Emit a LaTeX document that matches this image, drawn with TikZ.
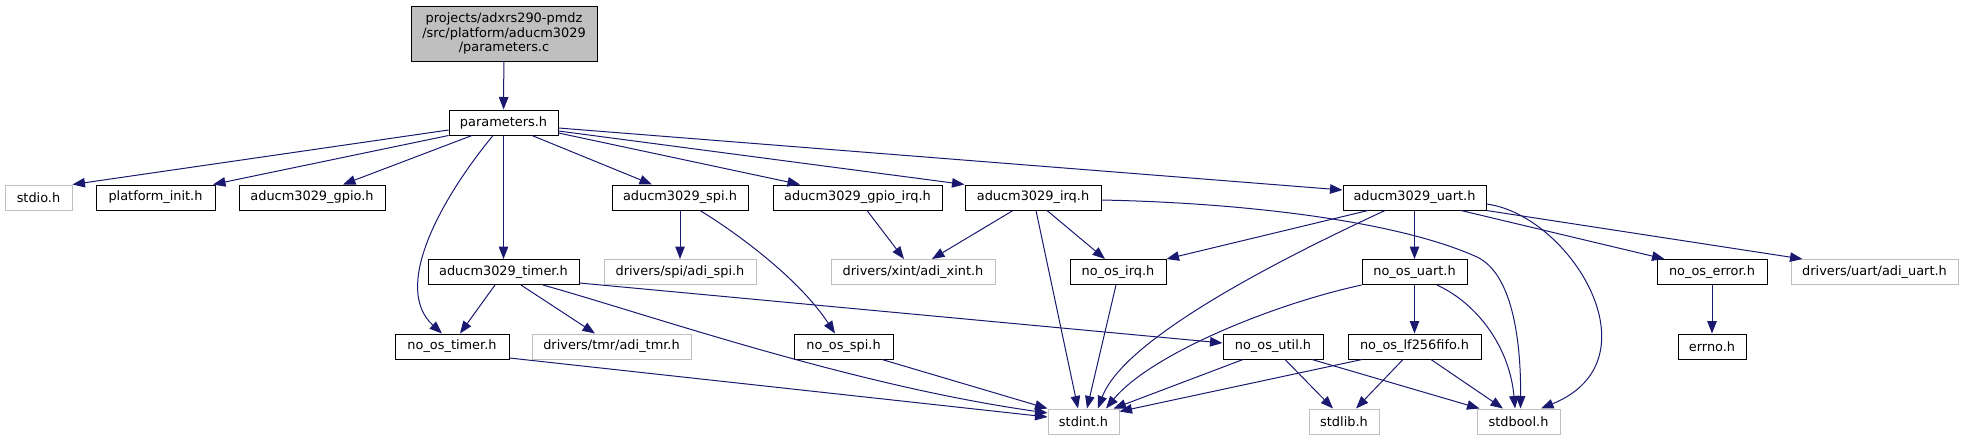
\documentclass[tikz,border=0pt]{standalone}
\usepackage{fontspec}
\setmainfont{DejaVu Sans}
\usetikzlibrary{arrows.meta}
\definecolor{edgec}{HTML}{191970}
\definecolor{greyb}{HTML}{BFBFBF}
\begin{document}
\begin{tikzpicture}[x=1pt,y=-1pt,
  fileb/.style={draw=black, line width=1pt, fill=white, minimum height=25pt, inner sep=0pt,
    font=\fontsize{12.9pt}{14.7pt}\selectfont},
  extb/.style={fileb, draw=greyb},
  rootb/.style={fileb, fill=greyb, minimum height=55pt, align=center},
  edge/.style={draw=edgec, line width=1pt, -{Triangle[length=12.5pt,width=9.5pt]}}]
\useasboundingbox (0,0) rectangle (1963,440);
% row 0 / 1
\node[rootb, minimum width=186pt] (pc) at (504,33.5) {projects/adxrs290-pmdz\\/src/platform/aducm3029\\/parameters.c};
\node[fileb, minimum width=109pt] (ph) at (503.5,122.5) {parameters.h};
% row 2
\node[extb, minimum width=67pt] (stdio) at (38.5,197.5) {stdio.h};
\node[fileb, minimum width=119pt] (platinit) at (155.5,197.5) {platform\_init.h};
\node[fileb, minimum width=146pt] (gpio) at (312,197.5) {aducm3029\_gpio.h};
\node[fileb, minimum width=136pt] (spi) at (680,197.5) {aducm3029\_spi.h};
\node[fileb, minimum width=169pt] (gpioirq) at (857.5,197.5) {aducm3029\_gpio\_irq.h};
\node[fileb, minimum width=136pt] (irq) at (1033,197.5) {aducm3029\_irq.h};
\node[fileb, minimum width=143pt] (uart) at (1414.5,197.5) {aducm3029\_uart.h};
% row 3
\node[fileb, minimum width=151pt] (timer) at (503.5,272) {aducm3029\_timer.h};
\node[extb, minimum width=152pt] (adispi) at (680,272) {drivers/spi/adi\_spi.h};
\node[extb, minimum width=164pt] (adixint) at (913,272) {drivers/xint/adi\_xint.h};
\node[fileb, minimum width=96pt] (noirq) at (1118,272) {no\_os\_irq.h};
\node[fileb, minimum width=105pt] (nouart) at (1414.5,272) {no\_os\_uart.h};
\node[fileb, minimum width=110pt] (noerror) at (1712,272) {no\_os\_error.h};
\node[extb, minimum width=167pt] (adiuart) at (1874.5,272) {drivers/uart/adi\_uart.h};
% row 4
\node[fileb, minimum width=114pt] (notimer) at (452,346.5) {no\_os\_timer.h};
\node[extb, minimum width=159pt] (aditmr) at (611.5,346.5) {drivers/tmr/adi\_tmr.h};
\node[fileb, minimum width=99pt] (nospi) at (843.5,346.5) {no\_os\_spi.h};
\node[fileb, minimum width=100pt] (noutil) at (1273,346.5) {no\_os\_util.h};
\node[fileb, minimum width=133pt] (fifo) at (1414.5,346.5) {no\_os\_lf256fifo.h};
\node[fileb, minimum width=68pt] (errno) at (1712,346.5) {errno.h};
% row 5
\node[extb, minimum width=71pt] (stdint) at (1083.5,421.5) {stdint.h};
\node[extb, minimum width=70pt] (stdlib) at (1344,421.5) {stdlib.h};
\node[extb, minimum width=83pt] (stdbool) at (1518.5,421.5) {stdbool.h};

% edges
\draw[edge] (pc) -- (ph);
\draw[edge] ([yshift=-7.5pt]ph.west) -- (stdio.north east);
\draw[edge] (ph.south west) -- ([xshift=-2.5pt]platinit.north east);
\draw[edge] ([xshift=-31.5pt]ph.south) -- ([xshift=31pt]gpio.north);
\draw[edge] ([xshift=-10.5pt]ph.south) .. controls (440,200) and (392,288) .. ([xshift=-10pt]notimer.north);
\draw[edge] (ph) -- (timer);
\draw[edge] ([xshift=28.5pt]ph.south) -- ([xshift=-28pt]spi.north);
\draw[edge] ([yshift=-10.5pt]ph.east) -- ([xshift=-57.5pt]gpioirq.north);
\draw[edge] ([yshift=-8.5pt]ph.east) -- (irq.north west);
\draw[edge] ([yshift=-5.5pt]ph.east) -- ([yshift=7.5pt]uart.west);

\draw[edge] (spi) -- (adispi);
\draw[edge] ([xshift=20pt]spi.south) .. controls (740,235) and (800,280) .. ([xshift=-8.5pt]nospi.north);
\draw[edge] ([xshift=9.5pt]gpioirq.south) -- ([xshift=-9pt]adixint.north);

\draw[edge] ([xshift=-20pt]irq.south) -- ([xshift=19pt]adixint.north);
\draw[edge] ([xshift=3pt]irq.south) -- ([xshift=-5.5pt]stdint.north);
\draw[edge] ([xshift=14pt]irq.south) -- ([xshift=-13pt]noirq.north);
\draw[edge] ([yshift=-2.5pt]irq.east) .. controls (1250,203) and (1400,222) .. (1477,257)
  .. controls (1515,275) and (1521,350) .. ([xshift=2pt]stdbool.north);

\draw[edge] ([xshift=-46.5pt]uart.south) -- (noirq.north east);
\draw[edge] ([xshift=-29.5pt]uart.south) .. controls (1300,250) and (1125,335) .. ([xshift=14.5pt]stdint.north);
\draw[edge] (uart) -- (nouart);
\draw[edge] ([xshift=46.5pt]uart.south) -- ([xshift=8pt]noerror.north west);
\draw[edge] (uart.south east) -- ([xshift=12pt]adiuart.north west);
\draw[edge] ([yshift=-6.5pt]uart.east) .. controls (1570,215) and (1660,360) .. ([xshift=22.5pt]stdbool.north);

\draw[edge] ([xshift=-8.5pt]timer.south) -- ([xshift=8pt]notimer.north);
\draw[edge] ([xshift=17.5pt]timer.south) -- ([xshift=-16.5pt]aditmr.north);
\draw[edge] ([xshift=39.5pt]timer.south) .. controls (650,315) and (850,385) .. ([yshift=8.5pt]stdint.west);
\draw[edge] ([yshift=-11pt]timer.east) -- ([yshift=3.5pt]noutil.west);

\draw[edge] ([yshift=-11.5pt]notimer.east) -- ([yshift=4.5pt]stdint.west);
\draw[edge] ([xshift=38.5pt]nospi.south) -- (stdint.north west);
\draw[edge] ([xshift=-2pt]noirq.south) -- ([xshift=3.5pt]stdint.north);

\draw[edge] (nouart.south west) .. controls (1270,305) and (1150,355) .. ([xshift=22.5pt]stdint.north);
\draw[edge] (nouart) -- (fifo);
\draw[edge] ([xshift=22.5pt]nouart.south) .. controls (1480,305) and (1510,350) .. ([xshift=-3.5pt]stdbool.north);

\draw[edge] ([xshift=-30pt]noutil.south) -- ([xshift=-6pt]stdint.north east);
\draw[edge] ([xshift=12pt]noutil.south) -- ([xshift=-11pt]stdlib.north);
\draw[edge] ([xshift=39pt]noutil.south) -- ([xshift=3pt]stdbool.north west);

\draw[edge] ([xshift=-52.5pt]fifo.south) -- ([yshift=-3pt]stdint.north east);
\draw[edge] ([xshift=-11.5pt]fifo.south) -- ([xshift=12pt]stdlib.north);
\draw[edge] ([xshift=16.5pt]fifo.south) -- ([xshift=-15.5pt]stdbool.north);

\draw[edge] (noerror) -- (errno);
\end{tikzpicture}
\end{document}
